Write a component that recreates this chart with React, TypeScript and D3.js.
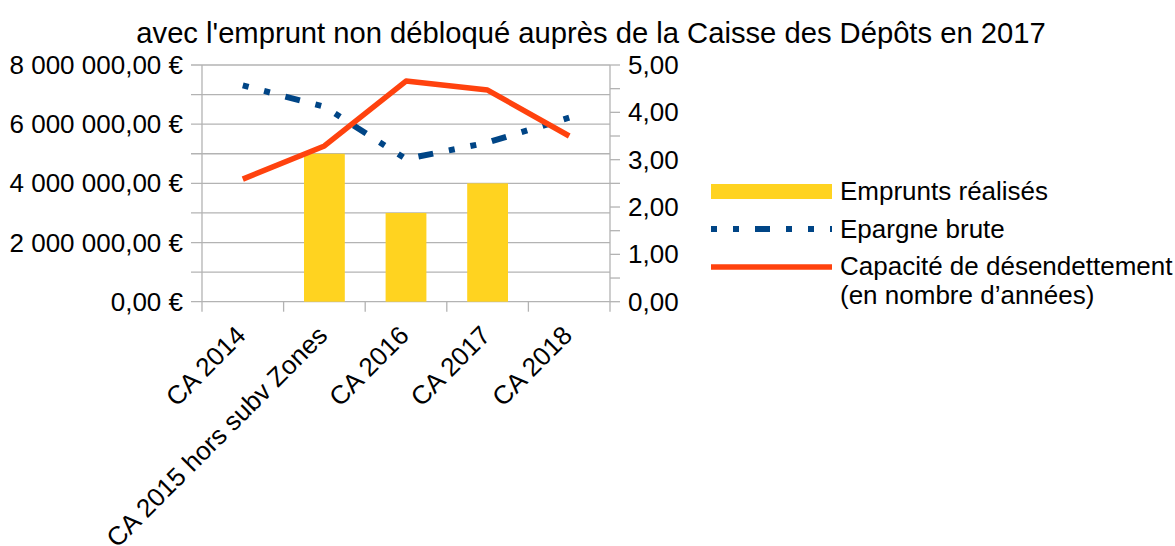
import React from 'react';
import * as d3 from 'd3';

const categories = ['CA 2014', 'CA 2015 hors subv Zones', 'CA 2016', 'CA 2017', 'CA 2018'];
const emprunts = [null, 5000000, 3000000, 4000000, null];
const epargne = [7310000, 6590000, 4820000, 5380000, 6220000];
const capacite = [2.59, 3.29, 4.66, 4.47, 3.5];
const leftTicks = [0, 1000000, 2000000, 3000000, 4000000, 5000000, 6000000, 7000000, 8000000];
const rightTicks = [0, 0.5, 1, 1.5, 2, 2.5, 3, 3.5, 4, 4.5, 5];
const legendLabels = ['Emprunts réalisés', 'Epargne brute', 'Capacité de désendettement', '(en nombre d\u2019années)'];
const title = "avec l'emprunt non débloqué auprès de la Caisse des Dépôts en 2017";

const W = 1175;
const H = 546;
const plot = { left: 202, right: 610, top: 65, bottom: 301.7 };
const font = '"Liberation Sans", Arial, sans-serif';
const grid = '#b3b3b3';

const fmtEuro = (v: number) => {
  const s = d3.format(',.2f')(v).replace(/,/g, ' ').replace('.', ',');
  return s + ' €';
};
const fmtNum = (v: number) => d3.format('.2f')(v).replace('.', ',');

export default function App() {
  const x = d3.scaleBand().domain(categories).range([plot.left, plot.right]);
  const yL = d3.scaleLinear().domain([0, 8000000]).range([plot.bottom, plot.top]);
  const yR = d3.scaleLinear().domain([0, 5]).range([plot.bottom, plot.top]);
  const cx = (c: string) => (x(c) as number) + x.bandwidth() / 2;

  const blueLine = d3.line<number>().x((d, i) => cx(categories[i])).y(d => yL(d));
  const redLine = d3.line<number>().x((d, i) => cx(categories[i])).y(d => yR(d));
  const barW = x.bandwidth() * 0.5;

  return (
    <svg width={W} height={H} style={{ position: 'absolute', left: 0, top: 0, background: '#fff' }} fontFamily={font}>
      <text x={591} y={43} fontSize={29.2} textAnchor="middle" fill="#000">{title}</text>

      {/* gridlines */}
      {leftTicks.map(t => (
        <line key={'g' + t} x1={plot.left - 11} x2={plot.right} y1={yL(t)} y2={yL(t)} stroke={grid} strokeWidth={1.3} />
      ))}
      <line x1={plot.left} x2={plot.left} y1={plot.top} y2={plot.bottom} stroke={grid} strokeWidth={1.3} />
      <line x1={plot.right} x2={plot.right} y1={plot.top} y2={plot.bottom} stroke={grid} strokeWidth={1.3} />
      {rightTicks.map(t => (
        <line key={'r' + t} x1={plot.right} x2={plot.right + 10} y1={yR(t)} y2={yR(t)} stroke={grid} strokeWidth={1.3} />
      ))}
      {d3.range(categories.length + 1).map(i => {
        const xx = plot.left + i * x.step();
        return <line key={'c' + i} x1={xx} x2={xx} y1={plot.bottom} y2={plot.bottom + 10} stroke={grid} strokeWidth={1.3} />;
      })}

      {/* bars */}
      {emprunts.map((v, i) =>
        v == null ? null : (
          <rect key={'b' + i} x={cx(categories[i]) - barW / 2} width={barW} y={yL(v)} height={plot.bottom - yL(v)} fill="#ffd320" />
        )
      )}

      <path d={blueLine(epargne) || ''} fill="none" stroke="#004586" strokeWidth={6} strokeDasharray="6 16 6 16 15 16" />
      <path d={redLine(capacite) || ''} fill="none" stroke="#ff420e" strokeWidth={5.5} strokeLinejoin="round" />

      {/* left labels */}
      {leftTicks.filter(t => t % 2000000 === 0).map(t => (
        <text key={'l' + t} x={183} y={yL(t)} dy="0.35em" fontSize={26} textAnchor="end">{fmtEuro(t)}</text>
      ))}
      {/* right labels */}
      {rightTicks.filter(t => Number.isInteger(t)).map(t => (
        <text key={'rl' + t} x={628} y={yR(t)} dy="0.35em" fontSize={26}>{fmtNum(t)}</text>
      ))}
      {/* category labels */}
      {categories.map(c => (
        <text key={c} transform={`translate(${cx(c) - 2},${plot.bottom + 29}) rotate(-45)`} dy="0.35em" fontSize={26} textAnchor="end">{c}</text>
      ))}

      {/* legend */}
      <rect x={711} y={184} width={121} height={15} fill="#ffd320" />
      <line x1={711} x2={832} y1={229} y2={229} stroke="#004586" strokeWidth={6} strokeDasharray="6 16 6 16 15 16" />
      <line x1={711} x2={832} y1={267} y2={267} stroke="#ff420e" strokeWidth={5.5} />
      <text x={840} y={191} dy="0.35em" fontSize={26}>{legendLabels[0]}</text>
      <text x={840} y={229} dy="0.35em" fontSize={26}>{legendLabels[1]}</text>
      <text x={840} y={266} dy="0.35em" fontSize={26}>{legendLabels[2]}</text>
      <text x={840} y={295} dy="0.35em" fontSize={26}>{legendLabels[3]}</text>
    </svg>
  );
}
